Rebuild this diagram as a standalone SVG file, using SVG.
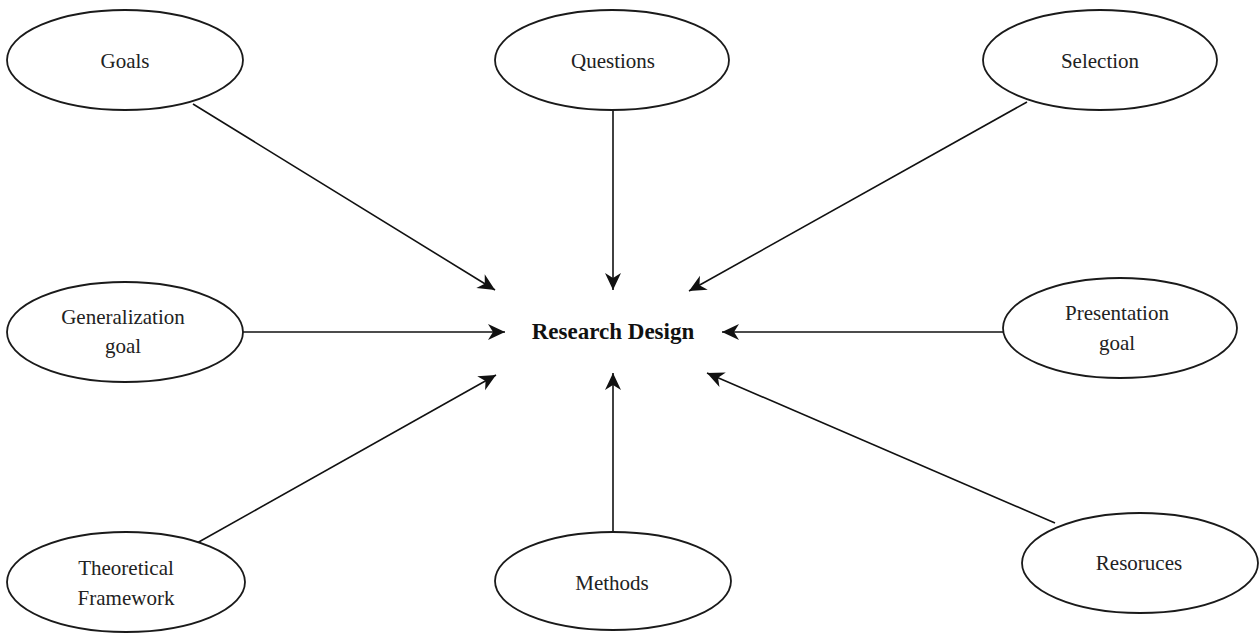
<svg xmlns="http://www.w3.org/2000/svg" width="1259" height="633" viewBox="0 0 1259 633">
  <defs>
    <style>
      .node ellipse { fill: #ffffff; stroke: #1a1a1a; stroke-width: 1.8; }
      .node text { font-family: "Liberation Serif", "Times New Roman", serif; font-size: 21px; fill: #222222; text-anchor: middle; }
      .hub text { font-family: "Liberation Serif", "Times New Roman", serif; font-size: 23px; font-weight: bold; fill: #111111; text-anchor: middle; }
      .edges line { stroke: #111111; stroke-width: 1.6; fill: none; marker-end: url(#arrow); }
    </style>
    <marker id="arrow" viewBox="-18 -9 19 18" refX="0" refY="0" markerWidth="19" markerHeight="18" markerUnits="userSpaceOnUse" orient="auto">
      <path d="M0,0 L-17,-8 L-12,0 L-17,8 Z" fill="#111111"/>
    </marker>
  </defs>

  <rect width="1259" height="633" fill="#ffffff"/>

  <!-- connectors: every factor points at the central label -->
  <g id="connectors" class="edges">
    <line x1="193" y1="104" x2="495" y2="290"/>
    <line x1="613" y1="110" x2="613" y2="290"/>
    <line x1="1027" y1="102" x2="689" y2="291"/>
    <line x1="243" y1="332" x2="505" y2="332"/>
    <line x1="1003" y1="332" x2="722" y2="332"/>
    <line x1="197" y1="543" x2="496" y2="375"/>
    <line x1="613" y1="532" x2="613" y2="373"/>
    <line x1="1055" y1="523" x2="707" y2="373"/>
  </g>

  <g id="research-design" class="hub">
    <text x="613" y="339">Research Design</text>
  </g>

  <g id="goals" class="node">
    <ellipse cx="125" cy="60" rx="118" ry="50"/>
    <text x="125" y="68">Goals</text>
  </g>

  <g id="questions" class="node">
    <ellipse cx="612" cy="60" rx="117" ry="50"/>
    <text x="613" y="68">Questions</text>
  </g>

  <g id="selection" class="node">
    <ellipse cx="1100" cy="60" rx="117" ry="50"/>
    <text x="1100" y="68">Selection</text>
  </g>

  <g id="generalization-goal" class="node">
    <ellipse cx="125" cy="332" rx="118" ry="50"/>
    <text x="123" y="324">Generalization</text>
    <text x="123" y="353">goal</text>
  </g>

  <g id="presentation-goal" class="node">
    <ellipse cx="1120" cy="328" rx="117" ry="50"/>
    <text x="1117" y="320">Presentation</text>
    <text x="1117" y="350">goal</text>
  </g>

  <g id="theoretical-framework" class="node">
    <ellipse cx="126" cy="582" rx="119" ry="50"/>
    <text x="126" y="575">Theoretical</text>
    <text x="126" y="605">Framework</text>
  </g>

  <g id="methods" class="node">
    <ellipse cx="613" cy="581" rx="118" ry="49"/>
    <text x="612" y="590">Methods</text>
  </g>

  <g id="resources" class="node">
    <ellipse cx="1140" cy="563" rx="118" ry="50"/>
    <text x="1139" y="570">Resoruces</text>
  </g>
</svg>
